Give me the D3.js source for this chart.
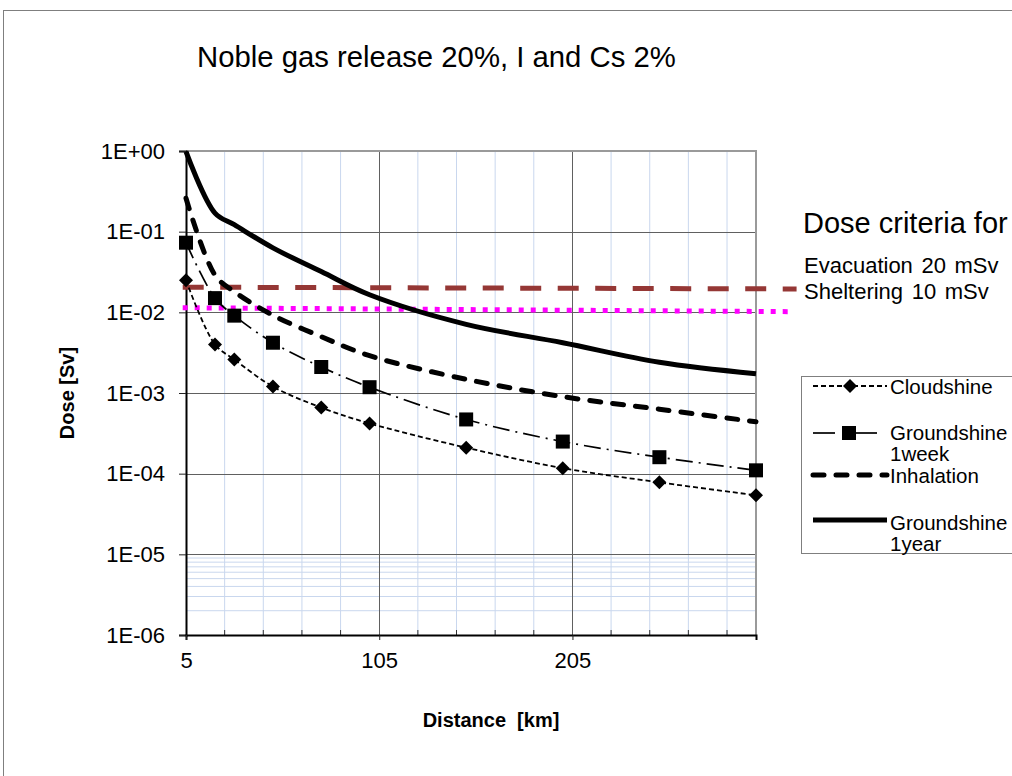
<!DOCTYPE html>
<html>
<head>
<meta charset="utf-8">
<script src="https://cdn.jsdelivr.net/npm/d3@7"></script>
<style>
    body { margin: 0; background: #fff; }
    svg { display: block; font-family: "Liberation Sans", Arial, sans-serif; }
</style>
</head>
<body>
<svg id="chart" width="1012" height="776"></svg>
<script>
// distances in km and doses in Sv
var distances = [5, 20, 30, 50, 75, 100, 150, 200, 250, 300];
var cloudshine = [0.025, 0.004, 0.0026, 0.0012, 0.00066, 0.00042, 0.00021, 0.000117, 0.000078, 0.000054];
var groundshineWeek = [0.073, 0.015, 0.0091, 0.0042, 0.0021, 0.00118, 0.00047, 0.00025, 0.00016, 0.00011];
var inhalation = [0.26, 0.029, 0.018, 0.0092, 0.005, 0.0029, 0.00148, 0.0009, 0.00063, 0.00044];
var groundshineYear = [0.98, 0.17, 0.122, 0.063, 0.032, 0.0165, 0.0071, 0.0042, 0.0024, 0.00173];

// dose criteria lines (drawn as two point series)
var criteriaDist = [3.3, 321];
var evacuation = [0.0205, 0.0195];
var sheltering = [0.0114, 0.0102];

var xTicks = [5, 105, 205];
var yTicks = [1, 1e-1, 1e-2, 1e-3, 1e-4, 1e-5, 1e-6];

var svg = d3.select("#chart");
var pLeft = 186, pRight = 756, pTop = 151, pBottom = 635;

var x = d3.scaleLinear().domain([5, 300]).range([pLeft, pRight]);
var y = d3.scaleLog().domain([1e-6, 1]).range([pBottom, pTop]);

// outer chart border (only top and left are in view)
svg.append("rect")
    .attr("x", 3.5).attr("y", 10.5)
    .attr("width", 1200).attr("height", 1000)
    .attr("fill", "none").attr("stroke", "#7f7f7f").attr("stroke-width", 1);

// title
svg.append("text")
    .attr("x", 197).attr("y", 67)
    .style("font-size", "29.3px")
    .text("Noble gas release 20%, I and Cs 2%");

var grid = svg.append("g");

// minor vertical grid every 20 km
var minorX = d3.range(25, 300, 20).filter(function (d) { return xTicks.indexOf(d) < 0; });
grid.selectAll(".vminor")
    .data(minorX)
    .enter()
    .append("line")
    .attr("x1", function (d) { return x(d); })
    .attr("x2", function (d) { return x(d); })
    .attr("y1", pTop).attr("y2", pBottom)
    .attr("stroke", "#c9d7ee").attr("stroke-width", 1);

// minor horizontal grid only in the lowest decade
var minorY = d3.range(2, 10).map(function (k) { return k * 1e-6; });
grid.selectAll(".hminor")
    .data(minorY)
    .enter()
    .append("line")
    .attr("x1", pLeft).attr("x2", pRight)
    .attr("y1", function (d) { return y(d); })
    .attr("y2", function (d) { return y(d); })
    .attr("stroke", "#c9d7ee").attr("stroke-width", 1);

// major grid
grid.selectAll(".hmajor")
    .data(yTicks.slice(1, 6))
    .enter()
    .append("line")
    .attr("x1", pLeft).attr("x2", pRight)
    .attr("y1", function (d) { return Math.round(y(d)) + 0.5; })
    .attr("y2", function (d) { return Math.round(y(d)) + 0.5; })
    .attr("stroke", "#606060").attr("stroke-width", 1);

grid.selectAll(".vmajor")
    .data(xTicks.slice(1))
    .enter()
    .append("line")
    .attr("x1", function (d) { return Math.round(x(d)) + 0.5; })
    .attr("x2", function (d) { return Math.round(x(d)) + 0.5; })
    .attr("y1", pTop).attr("y2", pBottom)
    .attr("stroke", "#606060").attr("stroke-width", 1);

// minor ticks pointing into the plot
grid.selectAll(".mtick")
    .data(minorX)
    .enter()
    .append("line")
    .attr("x1", function (d) { return x(d); })
    .attr("x2", function (d) { return x(d); })
    .attr("y1", pBottom - 5).attr("y2", pBottom)
    .attr("stroke", "#333").attr("stroke-width", 1);

// plot frame top and right
svg.append("line").attr("x1", pLeft).attr("x2", pRight + 1).attr("y1", pTop).attr("y2", pTop)
    .attr("stroke", "#9a9a9a").attr("stroke-width", 2);
svg.append("line").attr("x1", pRight).attr("x2", pRight).attr("y1", pTop).attr("y2", pBottom)
    .attr("stroke", "#9a9a9a").attr("stroke-width", 2);

// axes
function expFormat(d) {
    var e = Math.round(Math.log10(d));
    return "1E" + (e < 0 ? "-" : "+") + d3.format("02d")(Math.abs(e));
}

var yAxis = svg.append("g")
    .attr("transform", "translate(" + pLeft + ",0)")
    .call(d3.axisLeft(y).tickValues(yTicks).tickFormat(expFormat).tickSize(7).tickPadding(14));
var xAxis = svg.append("g")
    .attr("transform", "translate(0," + pBottom + ")")
    .call(d3.axisBottom(x).tickValues(xTicks).tickSize(5).tickPadding(12));

[xAxis, yAxis].forEach(function (a) {
    a.select(".domain").attr("stroke", "#000").attr("stroke-width", 2);
    a.selectAll(".tick line").attr("stroke", "#222");
    a.selectAll(".tick text")
        .attr("fill", "#000")
        .style("font-family", "'Liberation Sans', Arial, sans-serif")
        .style("font-size", "22px");
});
xAxis.selectAll(".tick text").attr("dy", "0.71em");

svg.append("text")
    .attr("x", 491).attr("y", 727)
    .attr("text-anchor", "middle")
    .style("font-size", "20px").style("font-weight", "bold")
    .attr("xml:space", "preserve")
    .text("Distance  [km]");

svg.append("text")
    .attr("transform", "translate(74,393) rotate(-90)")
    .attr("text-anchor", "middle")
    .style("font-size", "20px").style("font-weight", "bold")
    .text("Dose [Sv]");

// dose criteria lines
var straight = d3.line()
    .x(function (d) { return x(d[0]); })
    .y(function (d) { return y(d[1]); });

svg.append("path")
    .attr("d", straight(d3.zip(criteriaDist, evacuation)))
    .attr("fill", "none").attr("stroke", "#953735").attr("stroke-width", 5)
    .attr("stroke-dasharray", "21,16.5");
svg.append("path")
    .attr("d", straight(d3.zip([criteriaDist[0], criteriaDist[1] - 4], sheltering)))
    .attr("fill", "none").attr("stroke", "#ff00ff").attr("stroke-width", 5)
    .attr("stroke-dasharray", "5,7");

// series styles
var styles = [
    {values: groundshineYear, width: 5, dash: null, cap: "butt", marker: null},
    {values: inhalation, width: 5, dash: "11,12", cap: "round", marker: null},
    {values: groundshineWeek, width: 1.7, dash: "17,6,2,6", cap: "butt", marker: "square"},
    {values: cloudshine, width: 1.8, dash: "5,3", cap: "butt", marker: "diamond"}
];

var smooth = d3.line()
    .x(function (d) { return x(d[0]); })
    .y(function (d) { return y(d[1]); })
    .curve(d3.curveCatmullRom.alpha(0.5));

function drawMarker(g, type, cx, cy) {
    if (type === "diamond") {
        g.append("path")
            .attr("d", "M" + cx + "," + (cy - 7) + "L" + (cx + 7) + "," + cy + "L" + cx + "," + (cy + 7)
                + "L" + (cx - 7) + "," + cy + "Z")
            .attr("fill", "#000");
    } else if (type === "square") {
        g.append("rect")
            .attr("x", cx - 7).attr("y", cy - 7)
            .attr("width", 14).attr("height", 14)
            .attr("fill", "#000");
    }
}

var seriesG = svg.append("g");
styles.forEach(function (s) {
    seriesG.append("path")
        .attr("d", smooth(d3.zip(distances, s.values)))
        .attr("fill", "none")
        .attr("stroke", "#000")
        .attr("stroke-width", s.width)
        .attr("stroke-linecap", s.cap)
        .attr("stroke-dasharray", s.dash);
    if (s.marker) {
        distances.forEach(function (d, i) {
            drawMarker(seriesG, s.marker, x(d), y(s.values[i]));
        });
    }
});

// dose criteria text
svg.append("text").attr("x", 803).attr("y", 233).style("font-size", "29px").text("Dose criteria for");
svg.append("text").attr("x", 804).attr("y", 273).style("font-size", "22px")
    .style("word-spacing", "2.5px").text("Evacuation 20 mSv");
svg.append("text").attr("x", 804).attr("y", 298.5).style("font-size", "22px")
    .style("word-spacing", "2.5px").text("Sheltering 10 mSv");

// legend, in the reference's order
var legend = svg.append("g");
legend.append("rect")
    .attr("x", 801.5).attr("y", 376.5)
    .attr("width", 400).attr("height", 177)
    .attr("fill", "#fff").attr("stroke", "#7f7f7f").attr("stroke-width", 1);

var legendOrder = [3, 2, 1, 0];
var legendY = [386, 433, 475, 520];
var legendLines = [["Cloudshine"], ["Groundshine", "1week"], ["Inhalation"], ["Groundshine", "1year"]];
var legendBase = [393.5, 440, 482.5, 529.5];

legendOrder.forEach(function (k, i) {
    var s = styles[k];
    var ly = legendY[i];
    if (s.marker === "square") {
        legend.append("line").attr("x1", 813).attr("x2", 835).attr("y1", ly).attr("y2", ly)
            .attr("stroke", "#000").attr("stroke-width", s.width);
        legend.append("line").attr("x1", 855).attr("x2", 877).attr("y1", ly).attr("y2", ly)
            .attr("stroke", "#000").attr("stroke-width", s.width);
        drawMarker(legend, "square", 849, ly);
    } else {
        legend.append("line").attr("x1", 813).attr("x2", 887).attr("y1", ly).attr("y2", ly)
            .attr("stroke", "#000").attr("stroke-width", s.width)
            .attr("stroke-linecap", s.cap)
            .attr("stroke-dasharray", s.dash);
        if (s.marker) drawMarker(legend, s.marker, 850, ly);
    }
    legendLines[i].forEach(function (t, j) {
        legend.append("text")
            .attr("x", 890).attr("y", legendBase[i] + j * 21)
            .style("font-size", "20.5px")
            .text(t);
    });
});
</script>
</body>
</html>
